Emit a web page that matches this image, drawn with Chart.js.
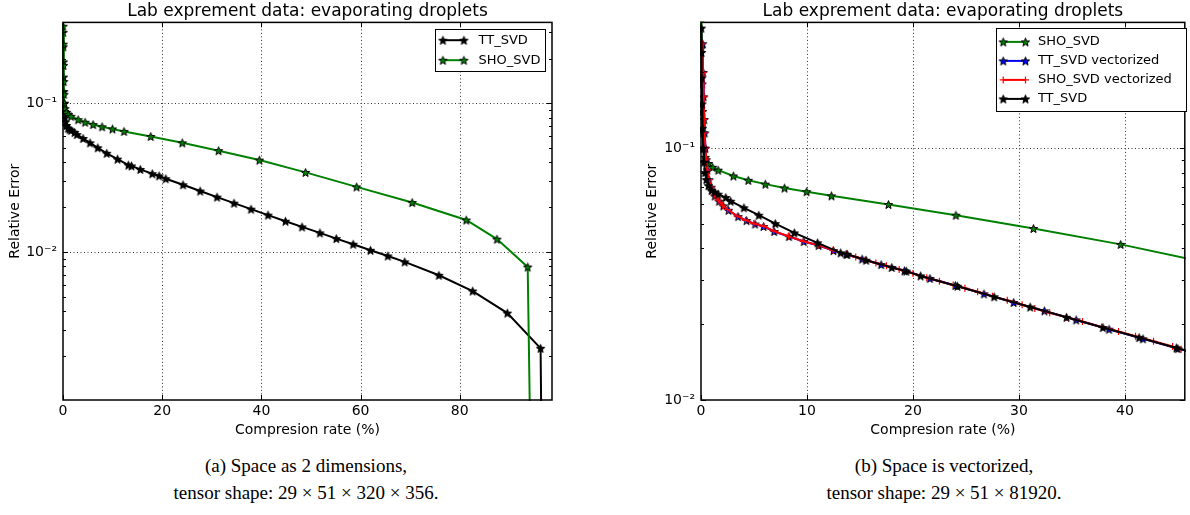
<!DOCTYPE html>
<html>
<head>
<meta charset="utf-8">
<script src="https://cdn.jsdelivr.net/npm/chart.js@4.4.1/dist/chart.umd.min.js"></script>
<style>
  body { margin: 0; background: #fff; width: 1190px; height: 515px; position: relative; overflow: hidden; }
  canvas { position: absolute; top: 0; }
  #chartA { left: 0; }
  #chartB { left: 635px; }
  .caption { position: absolute; top: 452px; width: 440px; text-align: center;
             font-family: "Liberation Serif", serif; font-size: 19px; line-height: 27px; color: #000; }
</style>
</head>
<body>
<canvas id="chartA" width="600" height="445"></canvas>
<canvas id="chartB" width="555" height="445"></canvas>
<div class="caption" style="left:86px">(a) Space as 2 dimensions,<br>tensor shape: 29 × 51 × 320 × 356.</div>
<div class="caption" style="left:724px">(b) Space is vectorized,<br>tensor shape: 29 × 51 × 81920.</div>
<script>
const chartTitle = "Lab exprement data: evaporating droplets";
const xLabel = "Compresion rate (%)";
const yLabel = "Relative Error";

// tick labels
const xTicksA = [0, 20, 40, 60, 80];
const xTicksB = [0, 10, 20, 30, 40];
const yMajors = [0.01, 0.1];
const yMajorLabels = ["10⁻²", "10⁻¹"];

// TT_SVD (same run in both panels)
const ttX = [0.03, 0.05, 0.07, 0.1, 0.14, 0.2, 0.28, 0.38, 0.5, 0.7, 1.0, 1.3, 1.62, 2.34, 2.8, 4.05, 5.45,
  7.01, 8.81, 11.0, 13.18, 13.8, 15.58, 18.0, 19.37, 20.72, 24.2, 27.66, 31.06, 34.49, 37.92, 41.34, 44.86,
  48.2, 51.8, 55.1, 58.5, 62.0, 65.5, 68.9, 75.8, 82.6, 89.6, 96.3, 96.7];
const ttY = [0.30, 0.24, 0.19, 0.15, 0.12, 0.10, 0.088, 0.08, 0.075, 0.071, 0.068, 0.067, 0.0657, 0.0637, 0.0616,
  0.058, 0.0542, 0.0502, 0.0461, 0.0421, 0.0384, 0.0379, 0.0359, 0.0336, 0.0325, 0.0311, 0.0283, 0.0257,
  0.0234, 0.0213, 0.0194, 0.0177, 0.0161, 0.01474, 0.01343, 0.0123, 0.01127, 0.01026, 0.0094, 0.00857,
  0.00697, 0.00546, 0.00388, 0.00225, 0.0001];

// SHO_SVD
const shoX = [0.02, 0.05, 0.1, 0.15, 0.2, 0.28, 0.4, 0.7, 1.1, 1.62, 3.06, 4.46, 6.07, 7.88, 9.97, 12.31,
  17.69, 24.05, 31.37, 39.6, 48.9, 59.2, 70.4, 81.3, 87.5, 93.7, 94.55];
const shoY = [0.33, 0.25, 0.18, 0.14, 0.115, 0.1, 0.092, 0.087, 0.084, 0.0818, 0.0776, 0.0746, 0.072, 0.0695,
  0.0672, 0.0647, 0.0598, 0.0542, 0.048, 0.0415, 0.0343, 0.0274, 0.0215, 0.0164, 0.0122, 0.00792, 0.0001];

// TT_SVD vectorized
const ttVecX = [0.15, 0.2, 0.25, 0.3, 0.35, 0.42, 0.5, 0.6, 0.75, 0.95, 1.3, 1.7, 2.1, 2.6, 3.5, 4.3, 5.1, 5.9,
  6.9, 8.3, 9.7, 11.1, 12.5, 13.7, 15.2, 17.0, 19.2, 21.6, 24.0, 26.7, 29.5, 32.4, 35.4, 38.5, 41.7, 45.0, 46.0];
const ttVecY = [0.26, 0.2, 0.16, 0.13, 0.115, 0.1, 0.09, 0.082, 0.075, 0.07, 0.0646, 0.0616, 0.059, 0.0567,
  0.0535, 0.0516, 0.05, 0.0489, 0.0467, 0.0446, 0.0426, 0.0411, 0.0392, 0.0379, 0.0363, 0.0345, 0.0326,
  0.0304, 0.0285, 0.0264, 0.0244, 0.0226, 0.0208, 0.0191, 0.0175, 0.016, 0.0156];

// SHO_SVD vectorized
const shoVecX = [0.15, 0.2, 0.25, 0.3, 0.35, 0.42, 0.5, 0.6, 0.75, 0.95, 1.24, 1.62, 2.03, 2.5, 3.43, 4.21,
  4.98, 5.92, 6.85, 8.25, 9.65, 11.06, 12.46, 13.7, 14.6, 15.5, 16.5, 17.5, 18.7, 20.0, 21.3, 22.5, 23.8,
  24.9, 26.1, 27.5, 28.9, 30.3, 31.5, 32.9, 34.5, 36.0, 37.8, 39.4, 41.0, 42.7, 44.5, 45.3];
const shoVecY = [0.26, 0.2, 0.16, 0.13, 0.115, 0.1, 0.09, 0.082, 0.075, 0.07, 0.0651, 0.0622, 0.0594, 0.0571,
  0.0537, 0.0518, 0.0502, 0.049, 0.0469, 0.0447, 0.0427, 0.0412, 0.0393, 0.0379, 0.037, 0.036, 0.035, 0.0341,
  0.033, 0.0318, 0.0306, 0.0296, 0.0286, 0.0278, 0.0269, 0.0258, 0.0249, 0.0239, 0.0231, 0.0222, 0.0213,
  0.0205, 0.0195, 0.0187, 0.0179, 0.0171, 0.0163, 0.0159];

Chart.defaults.font.family = "'DejaVu Sans', sans-serif";
Chart.defaults.color = "#000";

// matplotlib-like filled star with a black edge
function starImage(fill) {
  const c = document.createElement("canvas");
  c.width = 11; c.height = 11;
  const g = c.getContext("2d");
  g.beginPath();
  for (let i = 0; i < 10; i++) {
    const r = i % 2 ? 1.9 : 4.4;
    const a = -Math.PI / 2 + i * Math.PI / 5;
    const px = 5.5 + r * Math.cos(a), py = 6 + r * Math.sin(a);
    if (i) g.lineTo(px, py); else g.moveTo(px, py);
  }
  g.closePath();
  g.fillStyle = fill;
  g.fill();
  g.lineWidth = 1;
  g.strokeStyle = "#000";
  g.stroke();
  return c;
}

function series(label, xs, ys, color, marker, order) {
  return {
    label, order,
    data: xs.map((x, i) => ({x, y: ys[i]})),
    borderColor: color, backgroundColor: color, borderWidth: 2,
    pointStyle: marker === "cross" ? "cross" : starImage(color),
    pointRadius: marker === "cross" ? 3.5 : 4,
    pointBorderColor: color, pointBorderWidth: 1.2,
    pointHoverRadius: 0, tension: 0, clip: 1
  };
}

function isMajorY(v) {
  return yMajors.some(m => Math.abs(v - m) < m * 1e-6);
}

const axesDecor = {
  id: "axesDecor",
  beforeDatasetsDraw(chart) {
    const {ctx, chartArea: a, scales: {x, y}} = chart;
    ctx.save();
    ctx.strokeStyle = "#333";
    ctx.lineWidth = 1;
    ctx.setLineDash([1, 2.5]);
    ctx.beginPath();
    x.ticks.forEach(t => {
      const px = Math.round(x.getPixelForValue(t.value)) + 0.5;
      if (px > a.left + 2 && px < a.right - 2) { ctx.moveTo(px, a.top); ctx.lineTo(px, a.bottom); }
    });
    y.ticks.filter(t => isMajorY(t.value)).forEach(t => {
      const py = Math.round(y.getPixelForValue(t.value)) + 0.5;
      if (py > a.top + 2 && py < a.bottom - 2) { ctx.moveTo(a.left, py); ctx.lineTo(a.right, py); }
    });
    ctx.stroke();
    ctx.restore();
  },
  afterDatasetsDraw(chart) {
    const {ctx, chartArea: a, scales: {x, y}} = chart;
    ctx.save();
    ctx.strokeStyle = "#000";
    ctx.lineWidth = 1;
    ctx.beginPath();
    x.ticks.forEach(t => {
      const px = Math.round(x.getPixelForValue(t.value)) + 0.5;
      ctx.moveTo(px, a.bottom); ctx.lineTo(px, a.bottom - 5);
      ctx.moveTo(px, a.top); ctx.lineTo(px, a.top + 5);
    });
    y.ticks.forEach(t => {
      const py = Math.round(y.getPixelForValue(t.value)) + 0.5;
      const len = isMajorY(t.value) ? 5 : 3;
      ctx.moveTo(a.left, py); ctx.lineTo(a.left + len, py);
      ctx.moveTo(a.right, py); ctx.lineTo(a.right - len, py);
    });
    ctx.stroke();
    ctx.lineWidth = 1.5;
    ctx.strokeRect(a.left, a.top, a.right - a.left, a.bottom - a.top);
    ctx.restore();
  },
  afterDraw(chart, args, opts) {
    const L = opts.legend;
    if (!L) return;
    const {ctx, chartArea: a} = chart;
    const bx = Math.round(a.right + L.dx - L.w) + 0.5, by = Math.round(a.top + L.dy) + 0.5;
    ctx.save();
    ctx.fillStyle = "#fff";
    ctx.fillRect(bx, by, L.w, L.h);
    ctx.strokeStyle = "#000";
    ctx.lineWidth = 1;
    ctx.strokeRect(bx, by, L.w, L.h);
    chart.data.datasets.forEach((ds, i) => {
      const ly = by + L.first + i * L.gap;
      ctx.strokeStyle = ds.borderColor;
      ctx.lineWidth = 2;
      ctx.beginPath();
      ctx.moveTo(bx + L.x0, ly); ctx.lineTo(bx + L.x1, ly);
      ctx.stroke();
      ctx.lineWidth = ds.pointBorderWidth;
      [L.x0, L.x1].forEach(dx => Chart.helpers.drawPoint(ctx,
        {pointStyle: ds.pointStyle, radius: ds.pointRadius, rotation: 0, borderWidth: ds.pointBorderWidth},
        bx + dx, ly));
      ctx.fillStyle = "#000";
      ctx.font = "13px 'DejaVu Sans'";
      ctx.textBaseline = "middle";
      ctx.fillText(ds.label, bx + L.tx, ly);
    });
    ctx.restore();
  }
};

function makeChart(id, cfg) {
  return new Chart(document.getElementById(id), {
    type: "line",
    data: {datasets: cfg.datasets},
    options: {
      responsive: false, animation: false, devicePixelRatio: 1,
      layout: {padding: {left: 0, right: cfg.padRight, top: 0, bottom: 0}},
      plugins: {
        legend: {display: false},
        tooltip: {enabled: false},
        title: {display: true, text: chartTitle, fullSize: false, color: "#000",
                font: {size: 17, weight: "normal"}, padding: {top: 1, bottom: 1}},
        axesDecor: {legend: cfg.legend}
      },
      scales: {
        x: {
          type: "linear", min: 0, max: cfg.xMax,
          grid: {display: false, drawTicks: false}, border: {display: false},
          ticks: {font: {size: 14}, padding: 3, autoSkip: false, maxRotation: 0},
          title: {display: true, text: xLabel, font: {size: 14}, padding: {top: 0, bottom: 6}},
          afterBuildTicks: s => { s.ticks = cfg.xTicks.map(v => ({value: v})); },
          afterFit: s => { s.height = 45; }
        },
        y: {
          type: "logarithmic", min: cfg.yMin, max: cfg.yMax,
          grid: {display: false, drawTicks: false}, border: {display: false},
          ticks: {
            font: {size: 14}, padding: 6, autoSkip: false,
            callback: v => {
              const i = yMajors.findIndex(m => Math.abs(v - m) < m * 1e-6);
              return i >= 0 ? yMajorLabels[i] : "";
            }
          },
          title: {display: true, text: yLabel, font: {size: 14}, padding: {top: cfg.yTitlePad, bottom: 0}},
          afterBuildTicks: s => {
            const ticks = [];
            for (let e = Math.floor(Math.log10(s.min)); e <= Math.ceil(Math.log10(s.max)); e++) {
              for (let k = 1; k <= 9; k++) {
                const v = k === 1 && yMajors.find(m => Math.abs(m - Math.pow(10, e)) < 1e-12) || k * Math.pow(10, e);
                if (v >= s.min && v <= s.max) ticks.push({value: v});
              }
            }
            s.ticks = ticks;
          },
          afterFit: s => { s.width = cfg.yWidth; }
        }
      }
    },
    plugins: [axesDecor]
  });
}

makeChart("chartA", {
  xMax: 98.6, yMin: 0.00101, yMax: 0.35, xTicks: xTicksA, yWidth: 63, padRight: 48, yTitlePad: 7,
  legend: {w: 110, h: 42, dx: -7.5, dy: 6.5, first: 10.7, gap: 20, x0: 7.4, x1: 28.4, tx: 43},
  datasets: [
    series("TT_SVD", ttX, ttY, "#000000", "star", 2),
    series("SHO_SVD", shoX, shoY, "#008000", "star", 1)
  ]
});

makeChart("chartB", {
  xMax: 45.65, yMin: 0.01, yMax: 0.316, xTicks: xTicksB, yWidth: 66, padRight: 2, yTitlePad: 9,
  legend: {w: 190, h: 83, dx: 1, dy: 5.7, first: 13.4, gap: 19, x0: 6.7, x1: 29, tx: 41.4},
  datasets: [
    series("SHO_SVD", shoX, shoY, "#008000", "star", 4),
    series("TT_SVD vectorized", ttVecX, ttVecY, "#0000ff", "star", 3),
    series("SHO_SVD vectorized", shoVecX, shoVecY, "#ff0000", "cross", 2),
    series("TT_SVD", ttX, ttY, "#000000", "star", 1)
  ]
});
</script>
</body>
</html>
